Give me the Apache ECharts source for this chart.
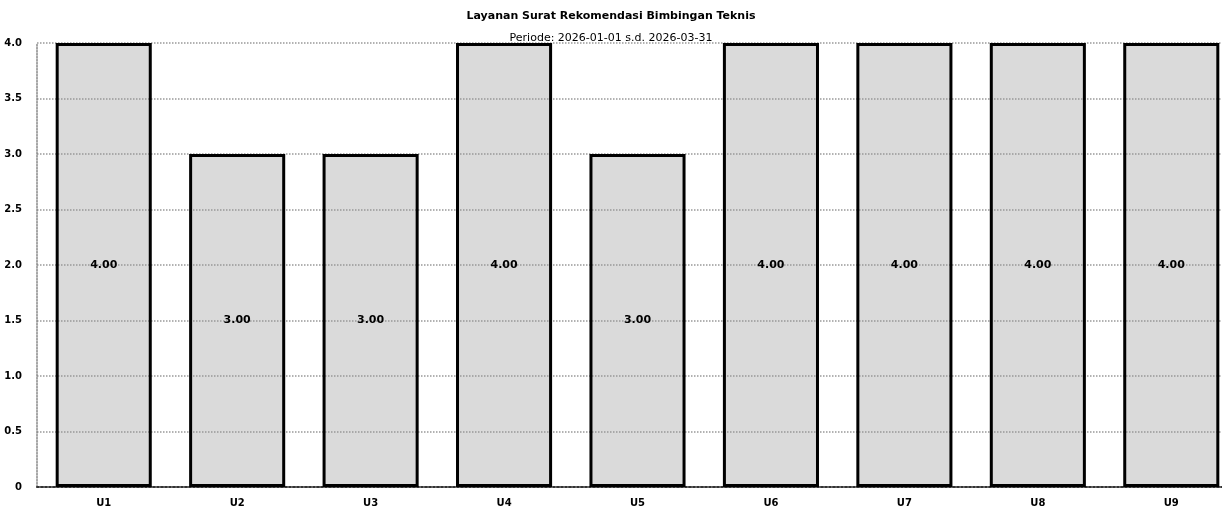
<!DOCTYPE html>
<html>
<head>
<meta charset="utf-8">
<title>Layanan Surat Rekomendasi Bimbingan Teknis</title>
<script src="https://cdn.jsdelivr.net/npm/echarts@6/dist/echarts.min.js"></script>
<style>
  html, body { margin: 0; padding: 0; background: #fff; }
  #chart { width: 1222px; height: 511px; }
</style>
</head>
<body>
<div id="chart"></div>
<script>
var judul = 'Layanan Surat Rekomendasi Bimbingan Teknis';
var periode = 'Periode: 2026-01-01 s.d. 2026-03-31';
var kategori = ['U1', 'U2', 'U3', 'U4', 'U5', 'U6', 'U7', 'U8', 'U9'];
var nilai = [4, 3, 3, 4, 3, 4, 4, 4, 4];

var option = {
    animation: false,
    title: [
        {
            text: judul,
            left: 'center',
            top: 6,
            textStyle: { fontFamily: 'DejaVu Sans', fontSize: 11, fontWeight: 'bold', color: '#000' }
        },
        {
            text: periode,
            left: 'center',
            top: 28,
            textStyle: { fontFamily: 'DejaVu Sans', fontSize: 11, fontWeight: 'normal', color: '#000' }
        }
    ],
    grid: {
        left: 37,
        top: 43,
        width: 1201,
        height: 444,
        outerBoundsMode: 'none',
        containLabel: false
    },
    xAxis: {
        type: 'category',
        data: kategori,
        axisTick: { show: false },
        axisLine: { lineStyle: { color: '#333', type: 'dotted', width: 2 } },
        axisLabel: {
            margin: 11,
            fontFamily: 'DejaVu Sans',
            fontSize: 10,
            fontWeight: 'bold',
            color: '#000'
        }
    },
    yAxis: {
        type: 'value',
        min: 0,
        max: 4,
        interval: 0.5,
        axisLine: { show: true, lineStyle: { color: '#888', type: 'dotted', width: 1.5 } },
        axisTick: { show: false },
        splitLine: { lineStyle: { color: '#999', type: 'dotted', width: 1.5 } },
        axisLabel: {
            margin: 15,
            fontFamily: 'DejaVu Sans',
            fontSize: 10,
            fontWeight: 'bold',
            color: '#000',
            formatter: function (v) { return v === 0 ? '0' : v.toFixed(1); }
        }
    },
    series: [
        {
            type: 'bar',
            data: nilai,
            barCategoryGap: '28%',
            itemStyle: {
                color: 'rgba(150,150,150,0.35)',
                borderColor: '#000',
                borderWidth: 3
            },
            label: {
                show: true,
                position: 'inside',
                fontFamily: 'DejaVu Sans',
                fontSize: 11,
                fontWeight: 'bold',
                color: '#000',
                formatter: function (p) { return p.value.toFixed(2); }
            }
        }
    ]
};

var myChart = echarts.init(document.getElementById('chart'));
myChart.setOption(option);
</script>
</body>
</html>
